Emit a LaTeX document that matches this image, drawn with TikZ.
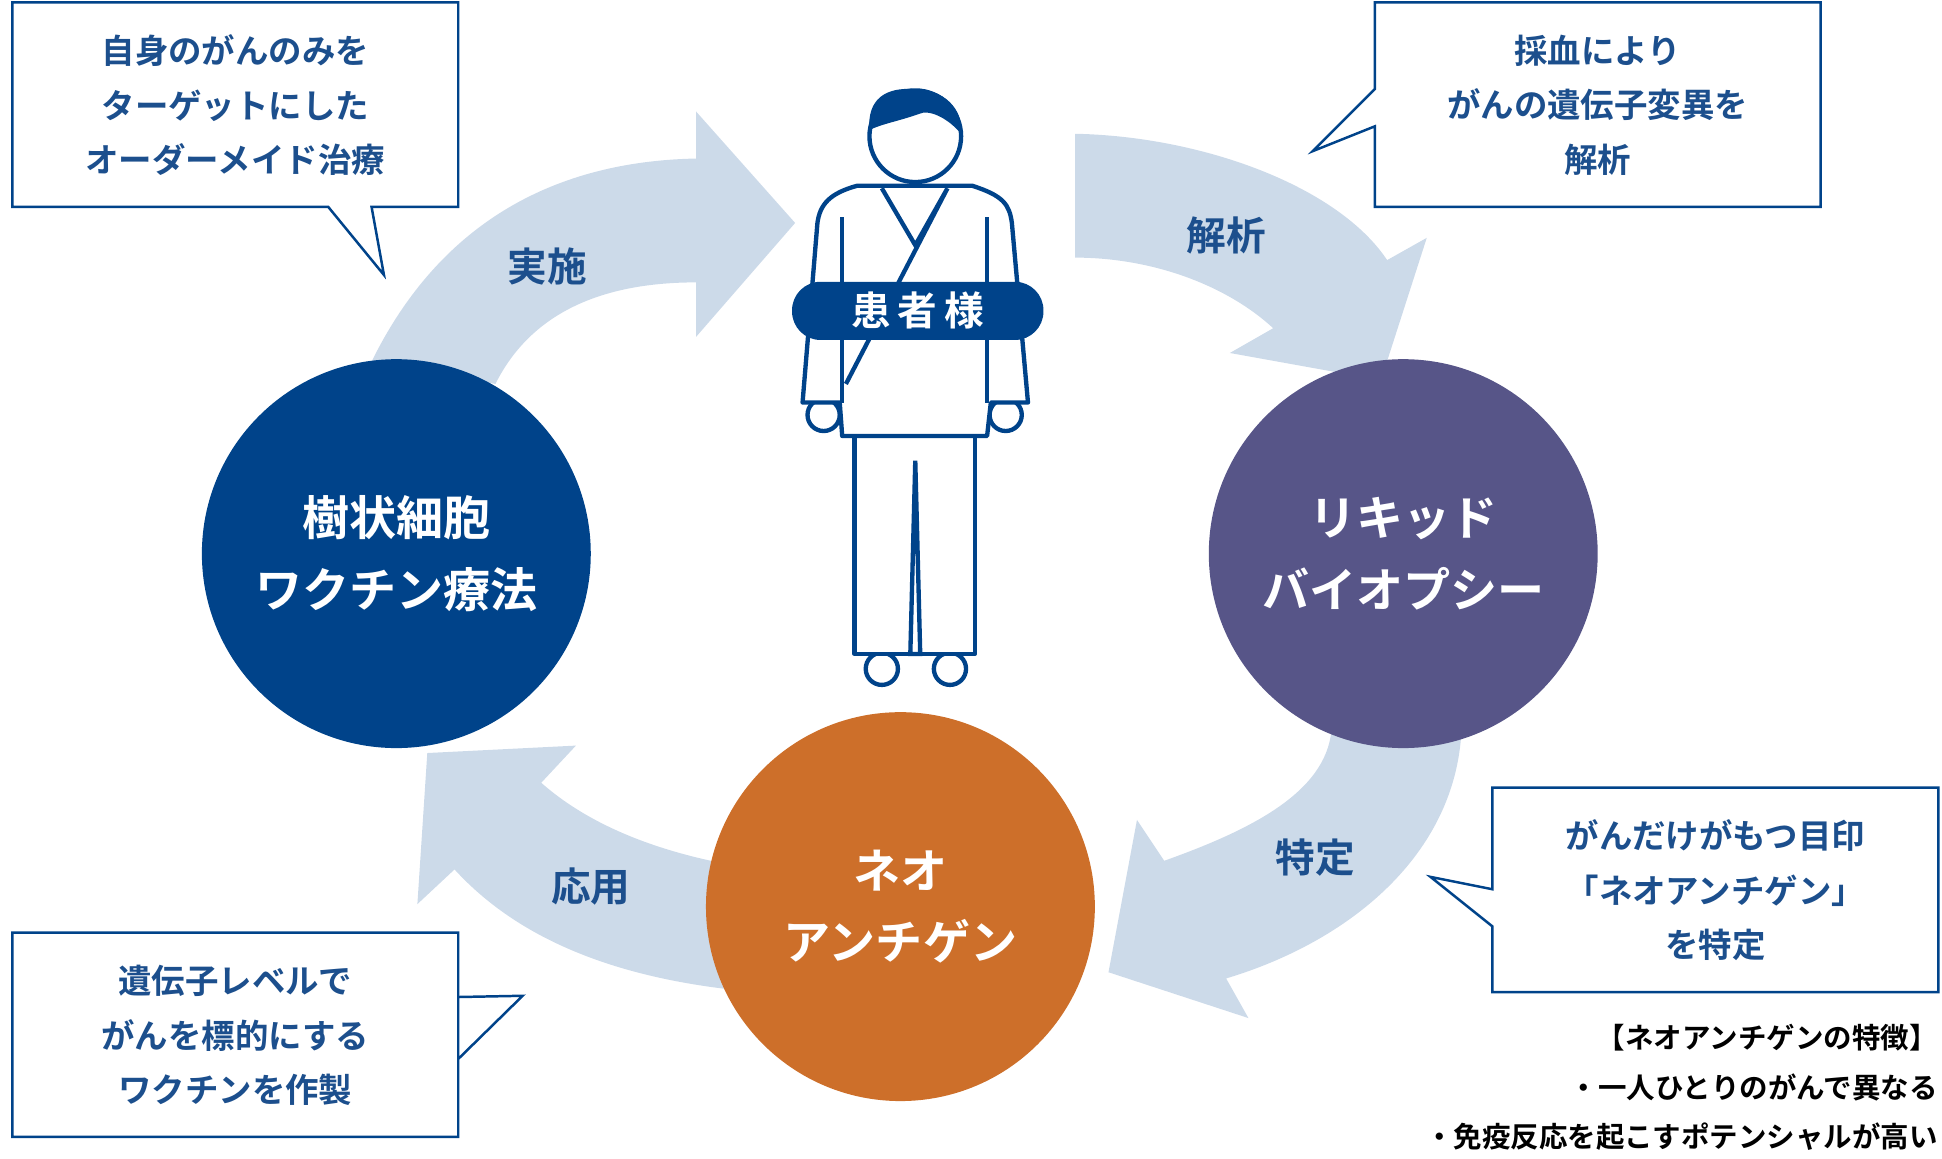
\documentclass[tikz,border=0pt]{standalone}
\usepackage{fontspec}
\setmainfont{Noto Sans CJK JP Bold}
\usetikzlibrary{positioning}
\definecolor{navy}{HTML}{00438A}
\definecolor{plum}{HTML}{575588}
\definecolor{rust}{HTML}{CD6F2A}
\definecolor{pale}{HTML}{CCDAE9}
\definecolor{ink}{HTML}{1C4F8D}
\tikzset{
  stage/.style={circle,minimum size=314pt,inner sep=0pt,text=white,align=center,
    font=\fontsize{38}{58}\selectfont},
  verb/.style={text=ink,font=\fontsize{32}{36}\selectfont},
  bubble/.style={draw=navy,line width=2pt,fill=white,line join=miter},
  memo/.style={text=ink,align=center,font=\fontsize{27}{44}\selectfont},
  body/.style={draw=navy,line width=3.5pt,fill=white,line join=round}
}
\begin{document}
\begin{tikzpicture}[x=1pt,y=-1pt]
  \useasboundingbox (0,0) rectangle (1568,935);

  % cycle arrows
  \fill[pale] (300,292) .. controls (360,170) and (460,130) .. (562,128) -- (562,90) -- (642,180)
    -- (562,272) -- (562,228) .. controls (490,228) and (430,250) .. (400,310) -- cycle;
  \fill[pale] (868,108) .. controls (970,110) and (1080,150) .. (1120,210) -- (1152,192)
    -- (1115,307) -- (993,285) -- (1028,265) .. controls (990,230) and (930,208) .. (868,208) -- cycle;
  \fill[pale] (1180,590) .. controls (1175,690) and (1090,760) .. (990,790) -- (1008,822)
    -- (895,785) -- (918,662) -- (940,695) .. controls (1010,670) and (1070,640) .. (1075,590) -- cycle;
  \fill[pale] (600,800) .. controls (500,790) and (420,760) .. (367,702) -- (337,730)
    -- (345,608) -- (465,602) -- (437,632) .. controls (480,670) and (540,690) .. (600,700) -- cycle;

  % stages
  \node[stage,fill=navy] (dc) at (320,447) {樹状細胞\\ワクチン療法};
  \node[stage,fill=plum] (lb) at (1133,447) {リキッド\\バイオプシー};
  \node[stage,fill=rust] (na) at (727,732) {ネオ\\アンチゲン};

  \node[verb] (v1) at (442,215) {実施};
  \node[verb] (v2) at (990,190) {解析};
  \node[verb] (v3) at (1062,692) {特定};
  \node[verb] (v4) at (477,716) {応用};

  % callouts
  \draw[bubble] (10,2) -- (370,2) -- (370,167) -- (300,167) -- (310,222) -- (265,167) -- (10,167) -- cycle;
  \node[memo] (m1) at (190,85) {自身のがんのみを\\ターゲットにした\\オーダーメイド治療};
  \draw[bubble] (1110,2) -- (1470,2) -- (1470,167) -- (1110,167) -- (1110,102) -- (1060,122) -- (1110,72) -- cycle;
  \node[memo] (m2) at (1290,85) {採血により\\がんの遺伝子変異を\\解析};
  \draw[bubble] (1205,636) -- (1565,636) -- (1565,801) -- (1205,801) -- (1205,748) -- (1155,708) -- (1205,718) -- cycle;
  \node[memo] (m3) at (1385,719) {がんだけがもつ目印\\「ネオアンチゲン」\\を特定};
  \draw[bubble] (10,753) -- (370,753) -- (370,855) -- (422,804) -- (370,805) -- (370,918) -- (10,918) -- cycle;
  \node[memo] (m4) at (190,836) {遺伝子レベルで\\がんを標的にする\\ワクチンを作製};

  \node[anchor=east,align=right,font=\fontsize{23}{40}\selectfont\mdseries] (nt) at (1568,878)
    {【ネオアンチゲンの特徴】\\・一人ひとりのがんで異なる\\・免疫反応を起こすポテンシャルが高い};

  % patient
  \draw[body] (712,540) circle (13pt) (767,540) circle (13pt);
  \draw[body] (690,352) rectangle (787,528);
  \draw[navy,line width=3.5pt] (739,372) -- (735,528) -- (743,528) -- cycle;
  \draw[body] (665,335) circle (13pt) (812,335) circle (13pt);
  \draw[body] (692,150) -- (785,150) .. controls (810,158) and (815,165) .. (817,180) -- (830,325) -- (800,325)
    -- (797,352) -- (680,352) -- (678,325) -- (648,325) -- (660,180) .. controls (662,165) and (670,156) .. (692,150) -- cycle;
  \draw[navy,line width=3.5pt] (712,152) -- (739,198) -- (765,152) (765,152) -- (683,310);
  \draw[navy,line width=3.5pt] (680,325) -- (680,175) (797,325) -- (797,175);
  \draw[body] (739,110) circle (37pt);
  \fill[navy] (702,105) .. controls (700,80) and (715,70) .. (739,72) .. controls (762,72) and (778,88) .. (776,108)
    .. controls (765,95) and (750,88) .. (742,92) .. controls (725,98) and (712,100) .. (702,105) -- cycle;
  \node[fill=navy,rounded corners=23pt,minimum width=203pt,minimum height=47pt,text=white,
    font=\fontsize{32}{36}\selectfont] (pt) at (741,251) {患\,者\,様};
\end{tikzpicture}
\end{document}
